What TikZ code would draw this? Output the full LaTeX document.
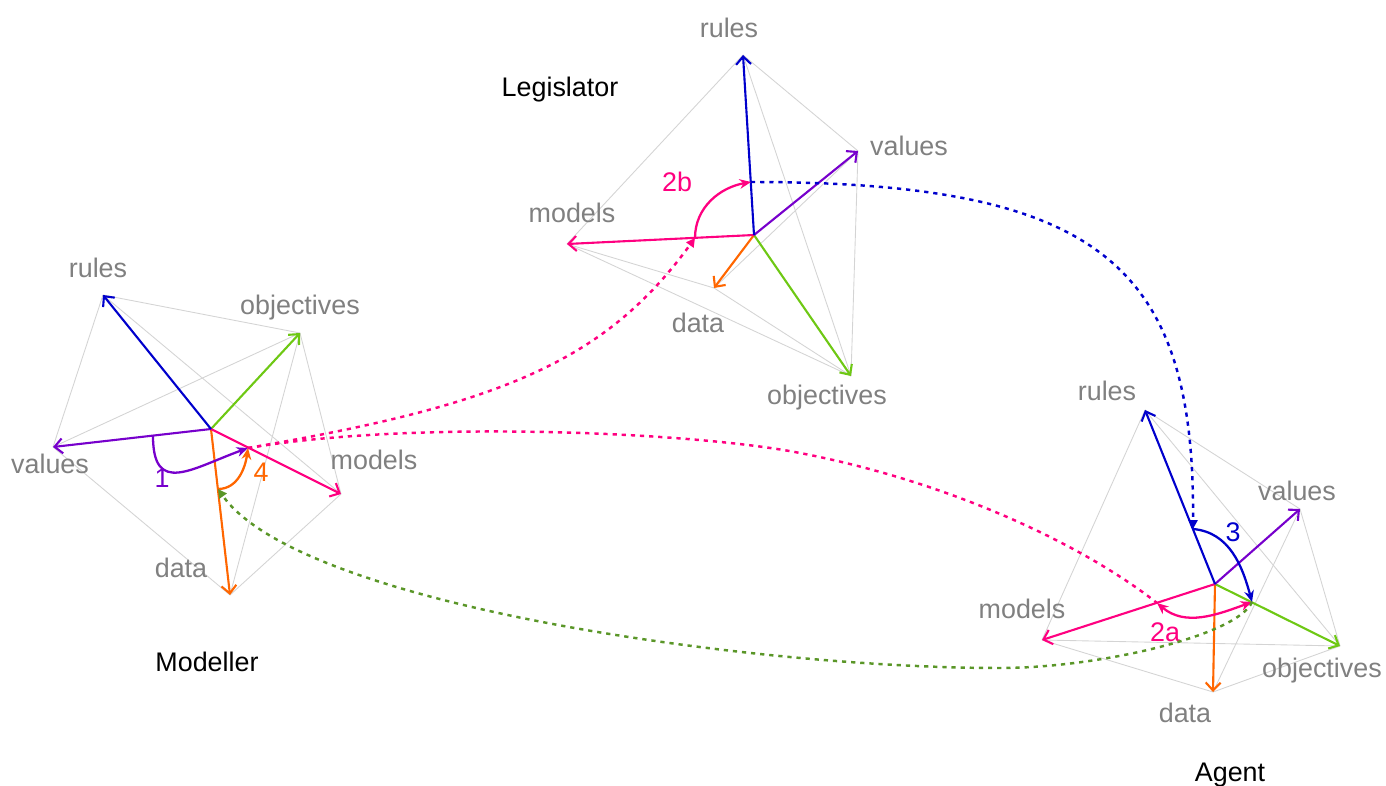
\documentclass[tikz,border=0pt]{standalone}
\usepackage{fontspec}
\setmainfont{Liberation Sans}
\usetikzlibrary{positioning,calc,arrows.meta}
\definecolor{rulecol}{RGB}{0,0,204}
\definecolor{valcol}{RGB}{119,0,204}
\definecolor{modcol}{RGB}{255,0,128}
\definecolor{datcol}{RGB}{255,102,0}
\definecolor{objcol}{RGB}{110,200,20}
\definecolor{hopgreen}{RGB}{90,150,40}
\definecolor{labgrey}{RGB}{128,128,128}
\definecolor{edgegrey}{RGB}{212,212,212}
\tikzset{>=stealth,
  vec/.style={line width=1.2pt,-{Straight Barb[length=4.5pt,width=8.5pt]}},
  edge/.style={edgegrey,line width=.5pt},
  lab/.style={labgrey,font=\fontsize{15.3}{18}\selectfont,anchor=base,inner sep=0pt},
  who/.style={lab,black},
  turn/.style={line width=1.3pt},
  hop/.style={line width=1.4pt,dash pattern=on 2.4pt off 2.8pt,
    -{Triangle[length=5pt,width=5pt]}}
}

\begin{document}
\begin{tikzpicture}[x=.02cm,y=.02cm]
\useasboundingbox (0,0) rectangle (1386,785);

% Tips of the modeller
\coordinate (M) at (211,356);
\coordinate (Mr) at (103,490);
\coordinate (Mo) at (300,452);
\coordinate (Mv) at (53,338);
\coordinate (Mm) at (341,291);
\coordinate (Md) at (230,190);
% Tips of the legislator
\coordinate (L) at (754,550);
\coordinate (Lr) at (743,730);
\coordinate (Lo) at (851,409);
\coordinate (Lv) at (858,634);
\coordinate (Lm) at (567,541);
\coordinate (Ld) at (714,497);
% Tips of the agent
\coordinate (A) at (1215,201);
\coordinate (Ar) at (1145,375);
\coordinate (Ao) at (1340,139);
\coordinate (Av) at (1300,276);
\coordinate (Am) at (1042,145);
\coordinate (Ad) at (1213,93);

% Draw grey edges and the five vectors
\foreach \p in {M,L,A} {
  \foreach \a/\b in {r/o,r/v,r/m,o/v,o/m,o/d,v/d,m/d}
    \draw[edge] (\p\a) -- (\p\b);
  \foreach \t/\c in {d/datcol,o/objcol,m/modcol,v/valcol,r/rulecol}
    \draw[vec,\c] (\p) -- (\p\t);
}

% Labels
\node[lab] (Mrl) at (98,507) {rules};
\node[lab] (Mol) at (300,470) {objectives};
\node[lab] (Mvl) at (50,312) {values};
\node[lab] (Mml) at (374,316) {models};
\node[lab] (Mdl) at (181,208) {data};
\node[who] (Mname) at (207,114) {Modeller};

\node[lab] (Lrl) at (729,747) {rules};
\node[lab] (Lvl) at (909,629) {values};
\node[lab] (Lml) at (572,562) {models};
\node[lab] (Ldl) at (698,452) {data};
\node[lab] (Lol) at (827,380) {objectives};
\node[who] (Lname) at (560,688) {Legislator};

\node[lab] (Arl) at (1107,384) {rules};
\node[lab] (Avl) at (1297,285) {values};
\node[lab] (Aml) at (1022,167) {models};
\node[lab] (Adl) at (1185,63) {data};
\node[lab] (Aol) at (1322,108) {objectives};
\node[who] (Aname) at (1230,4) {Agent};

% Points on the vectors where the turns start and end
\coordinate (M1) at (153,349);
\coordinate (Mp) at (248,337);
\coordinate (M4) at (218,296);
\coordinate (L2) at (695,547);
\coordinate (Lp) at (751,603);
\coordinate (A3) at (1193,256);
\coordinate (A2) at (1157,182);
\coordinate (Ap) at (1252,183);

% Draw the turns
\draw[turn,valcol,-{Stealth[length=6.5pt,width=5.5pt]}]
  (M1) to[out=270,in=200,looseness=1.6] (Mp);
\node[lab,valcol] (t1) at (162,297) {1};
\draw[turn,datcol,-{Stealth[length=6.5pt,width=5.5pt]}]
  (M4) to[out=0,in=262] (Mp);
\node[lab,datcol] (t4) at (261,303) {4};
\draw[turn,modcol,-{Stealth[length=6.5pt,width=5.5pt]}]
  (L2) to[out=90,in=190] (Lp);
\node[lab,modcol] (t2b) at (677,593) {2b};
\draw[turn,rulecol,-{Stealth[length=6.5pt,width=5.5pt]}]
  (A3) to[out=-5,in=105] (Ap);
\node[lab,rulecol] (t3) at (1233,244) {3};
\draw[turn,modcol,{Stealth[length=6.5pt,width=5.5pt]}-{Stealth[length=6.5pt,width=5.5pt]}]
  (A2) to[out=-40,in=200] (Ap);
\node[lab,modcol] (t2a) at (1165,144) {2a};

% Draw the dotted hops between the figures
\draw[hop,modcol] (Mp) .. controls (498,380) and (604,422) .. (L2);
\draw[hop,modcol,-] (Mp) .. controls (420,366) and (700,352) .. (800,332)
  .. controls (960,301) and (1090,235) .. (A2);
\draw[hop,rulecol] (Lp) .. controls (1100,603) and (1195,520) .. (A3);
\draw[hop,hopgreen] (Ap) .. controls (1238,150) and (1100,117) .. (1000,117)
  .. controls (750,117) and (300,180) .. (M4);
\end{tikzpicture}
\end{document}
